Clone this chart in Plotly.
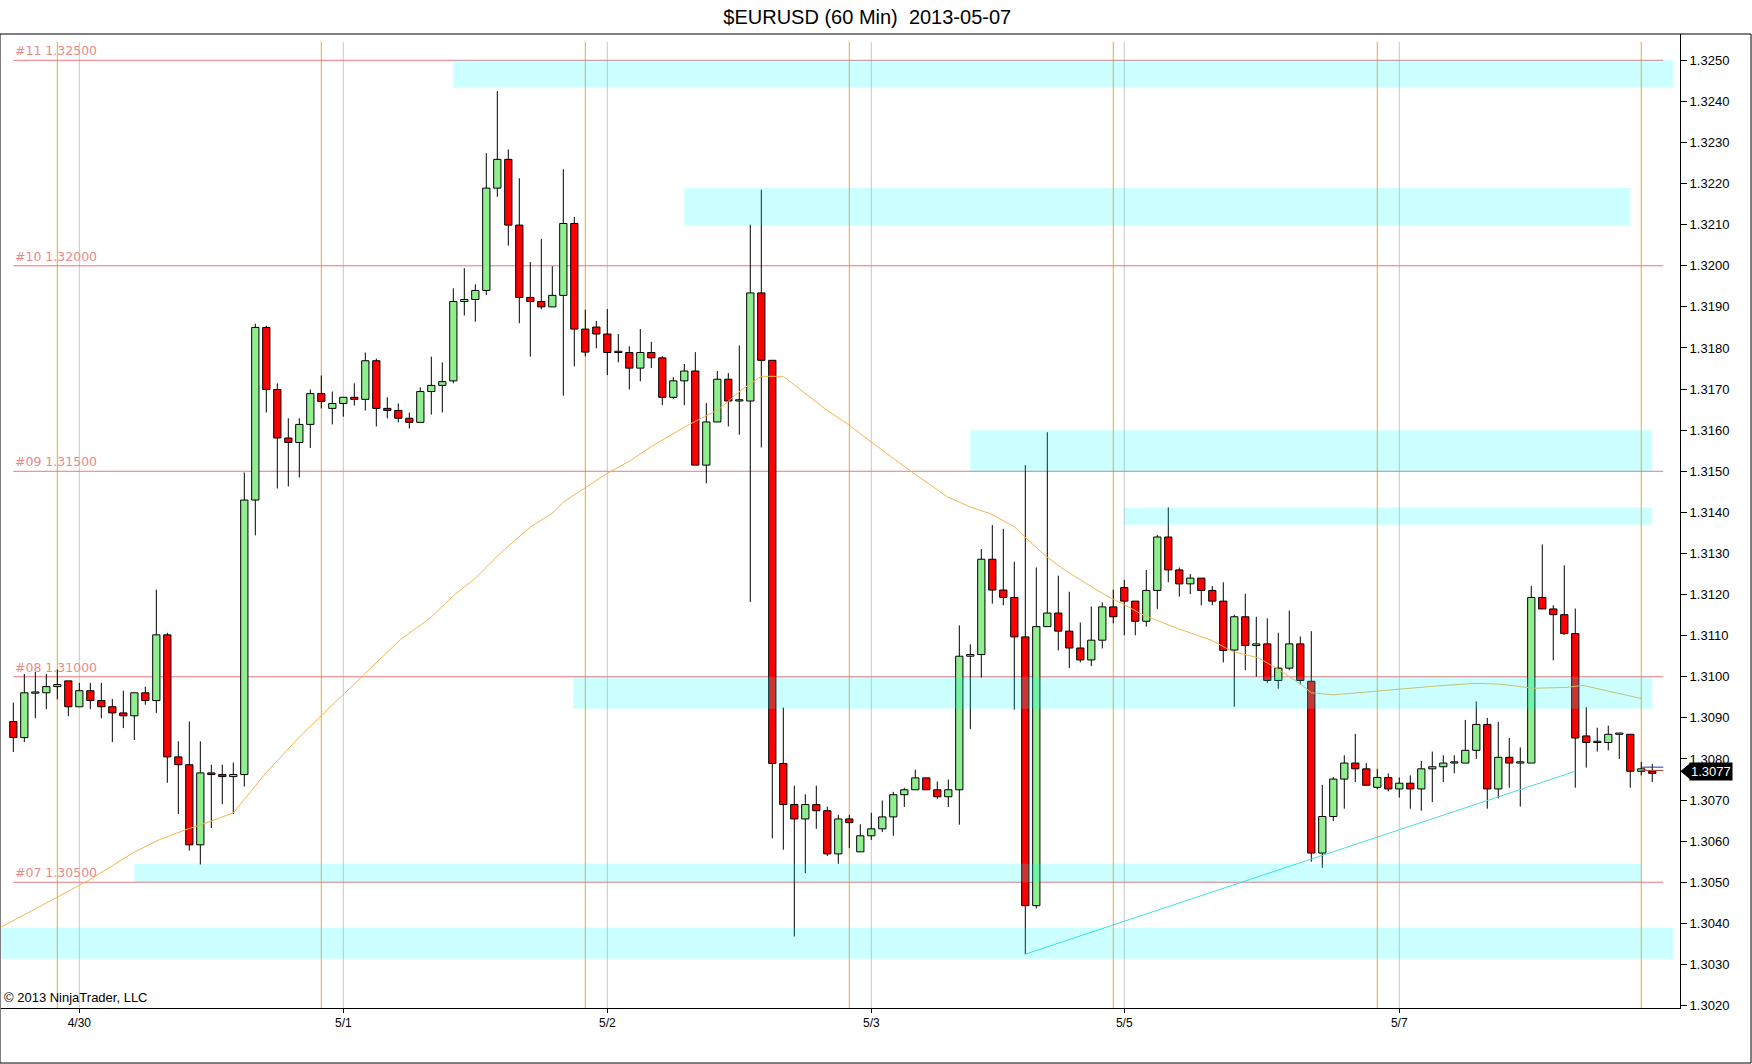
import plotly.graph_objects as go

# ---------------- data ----------------
BAR_INDEX = list(range(1, 151))

OPEN = [
    1.30891, 1.30852, 1.30960, 1.30961, 1.30976, 1.30990, 1.30927, 1.30966, 1.30942, 1.30927,
    1.30912, 1.30905, 1.30961, 1.30942, 1.31102, 1.30805, 1.30786, 1.30591, 1.30766, 1.30762,
    1.30757, 1.30762, 1.31430, 1.31850, 1.31699, 1.31581, 1.31570, 1.31614, 1.31689, 1.31653,
    1.31665, 1.31680, 1.31675, 1.31769, 1.31653, 1.31648, 1.31629, 1.31619, 1.31694, 1.31709,
    1.31720, 1.31913, 1.31918, 1.31940, 1.32189, 1.32259, 1.32099, 1.31923, 1.31913, 1.31900,
    1.31928, 1.32103, 1.31846, 1.31851, 1.31834, 1.31789, 1.31789, 1.31751, 1.31789, 1.31776,
    1.31680, 1.31720, 1.31744, 1.31515, 1.31620, 1.31724, 1.31671, 1.31671, 1.31934, 1.31770,
    1.30789, 1.30689, 1.30654, 1.30689, 1.30674, 1.30569, 1.30654, 1.30574, 1.30613, 1.30630,
    1.30659, 1.30713, 1.30725, 1.30754, 1.30725, 1.30708, 1.30725, 1.31050, 1.31054, 1.31286,
    1.31211, 1.31193, 1.31097, 1.30443, 1.31122, 1.31155, 1.31111, 1.31070, 1.31041, 1.31089,
    1.31170, 1.31217, 1.31184, 1.31135, 1.31210, 1.31340, 1.31260, 1.31226, 1.31240, 1.31210,
    1.31184, 1.31065, 1.31146, 1.31076, 1.31080, 1.30991, 1.31021, 1.31080, 1.30989, 1.30571,
    1.30660, 1.30751, 1.30790, 1.30776, 1.30731, 1.30755, 1.30727, 1.30741, 1.30727, 1.30776,
    1.30781, 1.30790, 1.30790, 1.30821, 1.30884, 1.30727, 1.30804, 1.30790, 1.30790, 1.31193,
    1.31165, 1.31151, 1.31105, 1.30856, 1.30840, 1.30840, 1.30860, 1.30860, 1.30770, 1.30770,
]
HIGH = [
    1.30937, 1.31007, 1.31012, 1.31007, 1.31018, 1.30990, 1.30985, 1.30985, 1.30985, 1.30946,
    1.30966, 1.30961, 1.30976, 1.31212, 1.31107, 1.30843, 1.30891, 1.30843, 1.30786, 1.30786,
    1.30791, 1.31497, 1.31859, 1.31854, 1.31714, 1.31629, 1.31629, 1.31699, 1.31733, 1.31694,
    1.31680, 1.31714, 1.31789, 1.31774, 1.31680, 1.31665, 1.31643, 1.31704, 1.31779, 1.31765,
    1.31945, 1.31994, 1.31955, 1.32274, 1.32425, 1.32283, 1.32213, 1.32009, 1.32065, 1.31999,
    1.32235, 1.32119, 1.31893, 1.31866, 1.31895, 1.31834, 1.31804, 1.31846, 1.31815, 1.31780,
    1.31729, 1.31761, 1.31790, 1.31666, 1.31744, 1.31739, 1.31806, 1.32100, 1.32185, 1.31770,
    1.30925, 1.30735, 1.30714, 1.30735, 1.30684, 1.30664, 1.30664, 1.30641, 1.30669, 1.30699,
    1.30720, 1.30730, 1.30774, 1.30754, 1.30745, 1.30750, 1.31125, 1.31079, 1.31311, 1.31369,
    1.31360, 1.31280, 1.31515, 1.31266, 1.31595, 1.31246, 1.31207, 1.31132, 1.31171, 1.31181,
    1.31212, 1.31236, 1.31184, 1.31260, 1.31345, 1.31412, 1.31266, 1.31250, 1.31240, 1.31221,
    1.31230, 1.31151, 1.31202, 1.31146, 1.31142, 1.31107, 1.31161, 1.31098, 1.31111, 1.30737,
    1.30756, 1.30809, 1.30861, 1.30790, 1.30776, 1.30765, 1.30755, 1.30760, 1.30795, 1.30818,
    1.30809, 1.30809, 1.30895, 1.30940, 1.30900, 1.30890, 1.30851, 1.30828, 1.31221, 1.31322,
    1.31174, 1.31271, 1.31166, 1.30926, 1.30876, 1.30881, 1.30863, 1.30860, 1.30793, 1.30788,
]
LOW = [
    1.30817, 1.30841, 1.30899, 1.30921, 1.30945, 1.30904, 1.30927, 1.30921, 1.30899, 1.30841,
    1.30875, 1.30846, 1.30932, 1.30912, 1.30742, 1.30666, 1.30577, 1.30543, 1.30632, 1.30690,
    1.30666, 1.30733, 1.31344, 1.31643, 1.31458, 1.31463, 1.31485, 1.31557, 1.31653, 1.31614,
    1.31633, 1.31660, 1.31648, 1.31609, 1.31629, 1.31619, 1.31604, 1.31619, 1.31638, 1.31643,
    1.31714, 1.31879, 1.31864, 1.31929, 1.32168, 1.32049, 1.31860, 1.31779, 1.31894, 1.31900,
    1.31684, 1.31755, 1.31780, 1.31799, 1.31734, 1.31765, 1.31699, 1.31719, 1.31751, 1.31661,
    1.31676, 1.31661, 1.31515, 1.31471, 1.31620, 1.31609, 1.31589, 1.31182, 1.31558, 1.30607,
    1.30579, 1.30368, 1.30522, 1.30630, 1.30564, 1.30545, 1.30583, 1.30574, 1.30603, 1.30622,
    1.30613, 1.30683, 1.30725, 1.30725, 1.30703, 1.30683, 1.30640, 1.30873, 1.30998, 1.31178,
    1.31174, 1.30920, 1.30325, 1.30436, 1.31122, 1.31064, 1.31021, 1.31035, 1.31026, 1.31069,
    1.31130, 1.31101, 1.31101, 1.31122, 1.31165, 1.31230, 1.31195, 1.31201, 1.31174, 1.31174,
    1.31035, 1.30927, 1.31016, 1.31000, 1.30985, 1.30971, 1.31016, 1.30981, 1.30550, 1.30535,
    1.30649, 1.30679, 1.30744, 1.30736, 1.30726, 1.30721, 1.30706, 1.30679, 1.30674, 1.30695,
    1.30744, 1.30765, 1.30790, 1.30800, 1.30679, 1.30704, 1.30730, 1.30684, 1.30790, 1.31165,
    1.31040, 1.31102, 1.30730, 1.30779, 1.30818, 1.30821, 1.30800, 1.30730, 1.30760, 1.30744,
]
CLOSE = [
    1.30852, 1.30961, 1.30963, 1.30976, 1.30981, 1.30927, 1.30966, 1.30942, 1.30927, 1.30912,
    1.30905, 1.30961, 1.30942, 1.31102, 1.30805, 1.30786, 1.30591, 1.30766, 1.30762, 1.30757,
    1.30762, 1.31430, 1.31850, 1.31699, 1.31581, 1.31570, 1.31614, 1.31689, 1.31670, 1.31665,
    1.31680, 1.31675, 1.31769, 1.31653, 1.31648, 1.31629, 1.31619, 1.31694, 1.31709, 1.31718,
    1.31913, 1.31918, 1.31940, 1.32189, 1.32259, 1.32099, 1.31923, 1.31913, 1.31900, 1.31928,
    1.32103, 1.31846, 1.31790, 1.31834, 1.31789, 1.31792, 1.31751, 1.31789, 1.31776, 1.31680,
    1.31720, 1.31744, 1.31515, 1.31620, 1.31724, 1.31671, 1.31674, 1.31934, 1.31770, 1.30789,
    1.30689, 1.30654, 1.30689, 1.30674, 1.30569, 1.30654, 1.30645, 1.30613, 1.30630, 1.30659,
    1.30713, 1.30725, 1.30754, 1.30725, 1.30708, 1.30725, 1.31050, 1.31054, 1.31286, 1.31211,
    1.31193, 1.31097, 1.30443, 1.31122, 1.31155, 1.31111, 1.31070, 1.31041, 1.31089, 1.31170,
    1.31146, 1.31184, 1.31135, 1.31210, 1.31340, 1.31260, 1.31226, 1.31240, 1.31210, 1.31184,
    1.31064, 1.31146, 1.31076, 1.31080, 1.30991, 1.31021, 1.31080, 1.30991, 1.30571, 1.30660,
    1.30751, 1.30790, 1.30776, 1.30736, 1.30755, 1.30727, 1.30741, 1.30727, 1.30776, 1.30781,
    1.30790, 1.30793, 1.30821, 1.30884, 1.30727, 1.30804, 1.30790, 1.30793, 1.31193, 1.31165,
    1.31151, 1.31105, 1.30851, 1.30840, 1.30843, 1.30860, 1.30863, 1.30770, 1.30776, 1.30765,
]

# moving average line
MA_X = [-0.1, 8.0, 11.9, 14.3, 16.8, 18.6, 21.0, 24.0, 27.1, 29.0, 31.0, 33.1, 36.2, 38.9,
        41.0, 43.1, 45.2, 48.0, 50.1, 51.0, 53.0, 55.0, 57.1, 59.0, 62.1, 65.1, 67.2, 69.0,
        71.0, 72.8, 74.9, 77.0, 79.0, 82.5, 85.9, 88.0, 89.8, 92.0, 93.0, 94.8, 96.3, 98.1,
        100.2, 101.8, 103.9, 106.9, 109.9, 111.8, 114.2, 116.0, 118.1, 119.0, 121.0, 125.0,
        130.1, 134.0, 136.2, 139.2, 142.2, 143.7, 149.0]
MA_Y = [1.30391, 1.30507, 1.30572, 1.30604, 1.30629, 1.30645, 1.30669, 1.30767, 1.30856,
        1.30905, 1.30957, 1.31010, 1.31091, 1.31143, 1.31197, 1.31242, 1.31299, 1.31364,
        1.31400, 1.31425, 1.31459, 1.31495, 1.31526, 1.31560, 1.31609, 1.31650, 1.31698,
        1.31731, 1.31731, 1.31693, 1.31650, 1.31612, 1.31571, 1.31502, 1.31438, 1.31413,
        1.31397, 1.31365, 1.31339, 1.31295, 1.31265, 1.31234, 1.31200, 1.31178, 1.31148,
        1.31117, 1.31089, 1.31062, 1.31046, 1.31018, 1.30981, 1.30961, 1.30956, 1.30965,
        1.30977, 1.30984, 1.30982, 1.30972, 1.30974, 1.30979, 1.30947]

# trend line
TREND_X = [93, 143]
TREND_Y = [1.30325, 1.30770]

# horizontal levels
LEVELS = [1.3050, 1.3100, 1.3150, 1.3200, 1.3250]
LEVEL_LABELS = ["#07 1.30500", "#08 1.31000", "#09 1.31500", "#10 1.32000", "#11 1.32500"]
LEVEL_SPAN = [1, 151]

# zones (x-start, x-end, price low, price high)
ZONE_X0 = [41, 62, 88, 102, 51.9, 12, -0.2]
ZONE_X1 = [151.9, 148, 150, 150, 150, 149, 151.9]
ZONE_LO = [1.32433, 1.32098, 1.31500, 1.31370, 1.30922, 1.30500, 1.30314]
ZONE_HI = [1.32500, 1.32189, 1.31600, 1.31412, 1.31000, 1.30545, 1.30389]

# session / date separators
SESSION_LINES = [5, 29, 53, 77, 101, 125, 149]
DATE_LINES = [7, 31, 55, 79, 102, 127]
DATE_LABELS = ["4/30", "5/1", "5/2", "5/3", "5/5", "5/7"]

# price ticks
PRICE_TICKS = [round(1.3020 + 0.001 * k, 4) for k in range(24)]

# last price markers
LAST_PRICE = 1.3077
MARK_X = [149, 151]
ASK_Y = [1.30780, 1.30780]
BID_Y = [1.30772, 1.30772]

TITLE = "$EURUSD (60 Min)\u00a0 2013-05-07"
COPYRIGHT = "\u00a9 2013 NinjaTrader, LLC"

# ---------------- figure ----------------
Y_RANGE = [1.30194, 1.32564]
X_RANGE = [-0.12, 152.52]
FONT = "Liberation Sans, Arial, sans-serif"

fig = go.Figure()

# wicks (upper and lower parts, so they do not cross the bodies)
wx, wy = [], []
for i, o, h, l, c in zip(BAR_INDEX, OPEN, HIGH, LOW, CLOSE):
    top, bot = max(o, c), min(o, c)
    if h > top:
        wx += [i, i, None]
        wy += [h, top, None]
    if l < bot:
        wx += [i, i, None]
        wy += [bot, l, None]
fig.add_trace(go.Scatter(x=wx, y=wy, mode="lines", line=dict(color="black", width=1),
                         hoverinfo="skip", showlegend=False))

up = [k for k in range(len(BAR_INDEX)) if CLOSE[k] >= OPEN[k]]
dn = [k for k in range(len(BAR_INDEX)) if CLOSE[k] < OPEN[k]]
for ids, col in ((up, "#90EE90"), (dn, "#FF0000")):
    fig.add_trace(go.Bar(
        x=[BAR_INDEX[k] for k in ids],
        base=[min(OPEN[k], CLOSE[k]) for k in ids],
        y=[abs(CLOSE[k] - OPEN[k]) for k in ids],
        width=0.66,
        marker=dict(color=col, line=dict(color="black", width=1)),
        hoverinfo="skip", showlegend=False))

# moving average
fig.add_trace(go.Scatter(x=MA_X, y=MA_Y, mode="lines",
                         line=dict(color="#F4B54E", width=1),
                         hoverinfo="skip", showlegend=False))
# trend line
fig.add_trace(go.Scatter(x=TREND_X, y=TREND_Y, mode="lines",
                         line=dict(color="#45DEDE", width=1),
                         hoverinfo="skip", showlegend=False))
# last price markers
fig.add_trace(go.Scatter(x=MARK_X, y=ASK_Y, mode="lines", line=dict(color="#2030C0", width=1),
                         hoverinfo="skip", showlegend=False))
fig.add_trace(go.Scatter(x=MARK_X, y=BID_Y, mode="lines", line=dict(color="#B04030", width=1),
                         hoverinfo="skip", showlegend=False))

shapes = []
for xv in SESSION_LINES:
    shapes.append(dict(type="line", xref="x", yref="y", x0=xv, x1=xv,
                       y0=Y_RANGE[0], y1=1.32545, layer="below",
                       line=dict(color="#F5A623", width=1)))
for xv in DATE_LINES:
    shapes.append(dict(type="line", xref="x", yref="y", x0=xv, x1=xv,
                       y0=Y_RANGE[0], y1=1.32545, layer="below",
                       line=dict(color="#C8C8C8", width=1)))
for lv in LEVELS:
    shapes.append(dict(type="line", xref="x", yref="y", x0=LEVEL_SPAN[0], x1=LEVEL_SPAN[1],
                       y0=lv, y1=lv, layer="below",
                       line=dict(color="rgb(230,120,125)", width=1)))
for x0, x1, lo, hi in zip(ZONE_X0, ZONE_X1, ZONE_LO, ZONE_HI):
    shapes.append(dict(type="rect", xref="x", yref="y", x0=x0, x1=x1, y0=lo, y1=hi,
                       layer="above", fillcolor="rgba(0,255,255,0.2)",
                       line=dict(width=0)))

# price flag arrow
shapes.append(dict(type="path", xref="paper", yref="y", layer="above",
                   path=f"M 1.0006,{LAST_PRICE} L 1.0062,{LAST_PRICE + 0.00019} "
                        f"L 1.0062,{LAST_PRICE - 0.00019} Z",
                   fillcolor="black", line=dict(color="black", width=1)))
# outer frame
shapes.append(dict(type="rect", xref="paper", yref="paper", x0=-0.0006, x1=1.0423,
                   y0=-0.0565, y1=1.0, layer="above", fillcolor="rgba(0,0,0,0)",
                   line=dict(color="black", width=1)))

annotations = []
for lv, lab in zip(LEVELS, LEVEL_LABELS):
    annotations.append(dict(x=0.0072, xref="paper", y=lv, yref="y", text=lab,
                            xanchor="left", yanchor="bottom", showarrow=False, yshift=0,
                            font=dict(family="DejaVu Sans, sans-serif", size=12.5,
                                      color="#E88A8A")))
annotations.append(dict(x=1.0052, xref="paper", y=LAST_PRICE, yref="y",
                        text=f"{LAST_PRICE:.4f}", xanchor="left", yanchor="middle",
                        showarrow=False, bgcolor="black", borderpad=1,
                        font=dict(family=FONT, size=13, color="white")))
annotations.append(dict(x=0.0006, xref="paper", y=0.0103, yref="paper", text=COPYRIGHT,
                        xanchor="left", yanchor="middle", showarrow=False,
                        font=dict(family=FONT, size=13, color="black")))

fig.update_layout(
    width=1752, height=1064,
    margin=dict(l=1, r=72, t=34, b=56),
    paper_bgcolor="white", plot_bgcolor="white",
    barmode="overlay",
    showlegend=False,
    hovermode=False,
    title=dict(text=TITLE, x=0.495, xref="container", xanchor="center",
               y=0.984, yref="container", yanchor="middle",
               font=dict(family=FONT, size=20, color="black")),
    shapes=shapes,
    annotations=annotations,
    font=dict(family=FONT, color="black"),
    xaxis=dict(range=X_RANGE, showgrid=False, zeroline=False, showline=True,
               linecolor="black", linewidth=1, ticks="outside", ticklen=4,
               tickcolor="black", tickvals=DATE_LINES, ticktext=DATE_LABELS,
               tickfont=dict(family=FONT, size=12, color="black")),
    yaxis=dict(range=Y_RANGE, side="right", showgrid=False, zeroline=False,
               showline=True, linecolor="black", linewidth=1, ticks="outside",
               ticklen=6, tickcolor="black", tickvals=PRICE_TICKS,
               ticktext=[f"{v:.4f}" for v in PRICE_TICKS],
               tickfont=dict(family=FONT, size=13, color="black")),
)

fig.write_html("out.html",
               config={"displayModeBar": False},
               post_script="document.body.style.margin='0';document.body.style.padding='0';")
